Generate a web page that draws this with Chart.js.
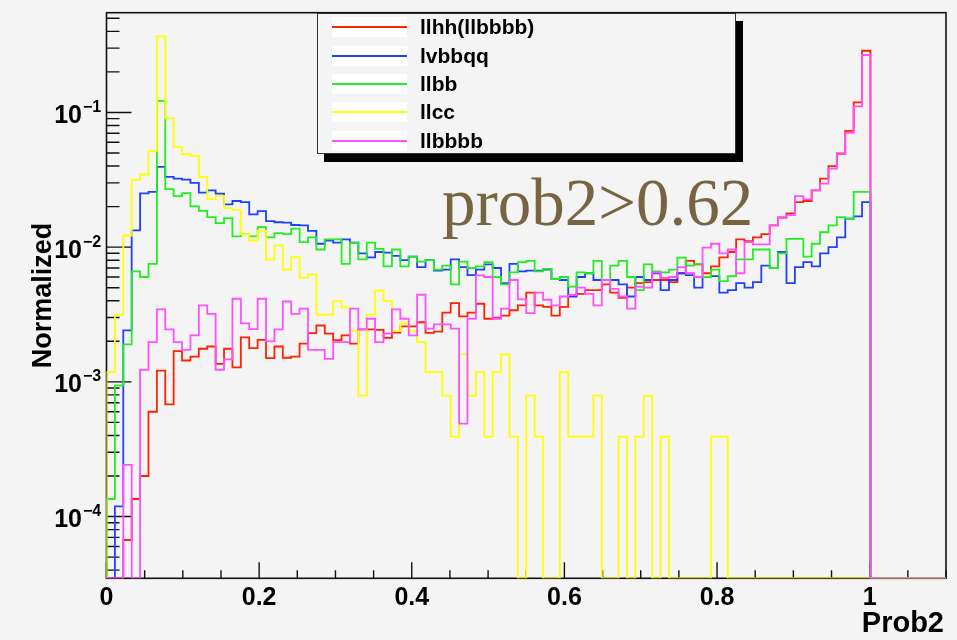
<!DOCTYPE html>
<html>
<head>
<meta charset="utf-8">
<script src="https://cdn.jsdelivr.net/npm/chart.js@4.4.0/dist/chart.umd.min.js"></script>
<style>
html,body{margin:0;padding:0;background:#f4f4f4;}
#wrap{position:relative;width:957px;height:640px;overflow:hidden;}
canvas{display:block;}
#legend{position:absolute;left:317px;top:13px;width:419px;height:141px;box-sizing:border-box;border:1px solid #333;background:#f4f4f4;box-shadow:7px 8px 0 0 #000;}
#legend .row{position:absolute;left:0;right:0;height:20px;}
#legend .sw{position:absolute;left:14px;top:0;width:75px;height:20px;background:#fff;}
#legend .sw i{position:absolute;left:0;right:0;top:9px;height:2px;}
#legend .tx{position:absolute;left:102px;top:-2px;line-height:20px;font:bold 21px "Liberation Sans",Arial,sans-serif;color:#000;white-space:nowrap;}
</style>
</head>
<body>
<div id="wrap">
<canvas id="c" width="957" height="640"></canvas>
<div id="legend"></div>
</div>
<script>
// ---- histogram binning (100 bins on [0, 1.1]; bins beyond the listed values are empty) ----
const NBINS = 100;
const XMIN = 0, XMAX = 1.1;
const YMIN = 3.48e-5, YMAX = 0.55;

const SERIES_NAMES = ['llhh(llbbbb)', 'lvbbqq', 'llbb', 'llcc', 'llbbbb'];
const SERIES_COLORS = ['#ff2200', '#2040ff', '#22ee22', '#ffff00', '#ff50ff'];

const XTICKS = [0, 0.2, 0.4, 0.6, 0.8, 1.0];
const XTICK_LABELS = ['0', '0.2', '0.4', '0.6', '0.8', '1'];
const YTICKS = [1e-4, 1e-3, 1e-2, 1e-1];
const YTICK_BASE = '10';
const YTICK_EXPONENTS = ['\u22124', '\u22123', '\u22122', '\u22121'];

const X_TITLE = 'Prob2';
const Y_TITLE = 'Normalized';
const CUT_TEXT = 'prob2>0.62';

const llhh = [0,0,6.7e-5,1.35e-4,2.0e-4,6.0e-4,1.21e-3,6.8e-4,1.69e-3,1.44e-3,
 1.54e-3,1.76e-3,1.83e-3,1.36e-3,1.76e-3,1.28e-3,2.14e-3,1.78e-3,2.05e-3,1.50e-3,
 1.83e-3,1.51e-3,1.54e-3,1.92e-3,2.30e-3,2.62e-3,2.28e-3,2.04e-3,2.21e-3,1.92e-3,
 2.45e-3,2.45e-3,2.43e-3,2.12e-3,2.32e-3,2.58e-3,2.58e-3,2.77e-3,2.31e-3,2.36e-3,
 3.27e-3,3.84e-3,3.06e-3,3.27e-3,3.80e-3,2.94e-3,3.0e-3,3.1e-3,3.4e-3,3.7e-3,
 4.6e-3,3.7e-3,3.6e-3,3.1e-3,3.6e-3,4.4e-3,4.5e-3,4.8e-3,4.8e-3,5.3e-3,
 4.6e-3,4.2e-3,5.0e-3,5.4e-3,5.5e-3,5.7e-3,5.7e-3,5.5e-3,6.4e-3,7.9e-3,
 7.45e-3,6.4e-3,7.2e-3,8.4e-3,9.2e-3,1.14e-2,1.11e-2,1.18e-2,1.25e-2,1.45e-2,
 1.66e-2,1.78e-2,2.16e-2,2.2e-2,2.64e-2,3.23e-2,3.99e-2,4.96e-2,7.3e-2,0.1187,
 0.287];

const lvbbqq = [0,1.19e-4,2.41e-3,1.33e-2,2.51e-2,2.57e-2,3.94e-2,3.32e-2,3.23e-2,3.17e-2,
 3.0e-2,2.54e-2,2.64e-2,2.5e-2,2.08e-2,2.2e-2,2.16e-2,1.75e-2,1.85e-2,1.56e-2,
 1.53e-2,1.52e-2,1.46e-2,1.45e-2,1.32e-2,1.06e-2,1.12e-2,1.08e-2,1.14e-2,1.08e-2,
 9.0e-3,8.4e-3,9.2e-3,9.1e-3,8.6e-3,8.0e-3,8.5e-3,7.1e-3,8.0e-3,6.7e-3,
 6.8e-3,8.1e-3,7.1e-3,6.2e-3,6.8e-3,7.45e-3,7.0e-3,5.4e-3,7.5e-3,6.6e-3,
 6.7e-3,6.7e-3,6.8e-3,5.8e-3,5.7e-3,4.3e-3,6.0e-3,6.4e-3,5.7e-3,5.7e-3,
 5.7e-3,5.3e-3,4.3e-3,6.0e-3,5.7e-3,6.4e-3,4.8e-3,5.7e-3,6.4e-3,6.2e-3,
 5.0e-3,6.0e-3,6.1e-3,4.6e-3,4.8e-3,5.4e-3,5.0e-3,5.5e-3,7.3e-3,7.0e-3,
 9.2e-3,5.4e-3,7.1e-3,7.75e-3,7.2e-3,9.0e-3,1.0e-2,1.18e-2,1.63e-2,1.69e-2,
 2.16e-2];

const llbb = [1.35e-4,9.4e-4,1.9e-3,6.6e-3,6.0e-3,7.5e-3,0.122,2.7e-2,2.39e-2,2.52e-2,
 2.01e-2,1.86e-2,1.67e-2,1.51e-2,1.64e-2,1.2e-2,1.25e-2,1.2e-2,1.41e-2,1.18e-2,
 1.27e-2,1.25e-2,1.37e-2,1.09e-2,1.18e-2,9.6e-3,1.14e-2,1.14e-2,7.5e-3,1.08e-2,
 8.1e-3,1.08e-2,9.7e-3,7.2e-3,9.6e-3,7.2e-3,8.5e-3,7.8e-3,8.0e-3,6.8e-3,
 7.3e-3,5.3e-3,7.8e-3,7.0e-3,7.2e-3,7.75e-3,6.0e-3,5.3e-3,6.5e-3,7.75e-3,
 7.9e-3,6.6e-3,6.9e-3,5.8e-3,6.0e-3,5.1e-3,6.5e-3,6.4e-3,7.9e-3,5.7e-3,
 7.3e-3,7.9e-3,6.0e-3,4.8e-3,7.45e-3,6.6e-3,6.5e-3,6.8e-3,8.35e-3,7.3e-3,
 7.5e-3,6.0e-3,6.8e-3,5.6e-3,6.1e-3,8.1e-3,8.1e-3,9.6e-3,9.6e-3,7.0e-3,
 9.0e-3,1.15e-2,1.15e-2,8.5e-3,1.06e-2,1.29e-2,1.45e-2,1.67e-2,1.63e-2,2.57e-2,
 2.57e-2];

const llcc = [1.18e-3,3.16e-3,1.22e-2,3.17e-2,3.46e-2,5.18e-2,0.367,9.02e-2,5.55e-2,4.9e-2,
 4.76e-2,3.32e-2,2.27e-2,2.4e-2,1.95e-2,1.88e-2,1.25e-2,1.12e-2,1.32e-2,8.08e-3,
 1.03e-2,6.8e-3,8.44e-3,5.94e-3,6.28e-3,3.16e-3,3.16e-3,3.97e-3,3.55e-3,2.38e-3,
 7.9e-4,3.16e-3,4.77e-3,3.97e-3,2.38e-3,2.72e-3,2.38e-3,1.97e-3,1.18e-3,1.18e-3,
 7.9e-4,3.92e-4,1.6e-3,7.9e-4,1.18e-3,3.92e-4,1.18e-3,1.6e-3,3.92e-4,0,
 7.9e-4,3.92e-4,0,0,1.18e-3,3.92e-4,3.92e-4,3.92e-4,7.9e-4,0,
 0,3.92e-4,0,3.92e-4,7.9e-4,0,3.92e-4,0,0,0,
 0,0,3.92e-4,3.92e-4,0,0,0,0,0,0,
 0,0,0,0,0,0,0,0,0,0,
 0];

const llbbbb = [0,0,2.42e-4,0,1.23e-3,1.97e-3,3.45e-3,2.45e-3,1.97e-3,1.73e-3,
 2.21e-3,3.69e-3,3.2e-3,1.23e-3,1.47e-3,4.14e-3,2.72e-3,2.46e-3,4.14e-3,2.0e-3,
 2.45e-3,3.95e-3,3.2e-3,3.49e-3,1.73e-3,1.73e-3,1.48e-3,1.97e-3,1.97e-3,3.49e-3,
 2.45e-3,2.94e-3,1.97e-3,2.28e-3,3.45e-3,2.94e-3,2.21e-3,4.43e-3,2.48e-3,2.67e-3,
 2.67e-3,2.48e-3,4.9e-4,2.94e-3,6.17e-3,6.0e-3,2.94e-3,3.5e-3,5.7e-3,4.1e-3,
 3.24e-3,4.6e-3,4.07e-3,3.7e-3,4.3e-3,4.4e-3,5.0e-3,4.5e-3,3.7e-3,5.7e-3,
 4.9e-3,4.3e-3,3.5e-3,5.1e-3,5.0e-3,6.5e-3,5.9e-3,6.0e-3,7.1e-3,6.4e-3,
 6.0e-3,9.9e-3,1.06e-2,9.0e-3,9.6e-3,6.4e-3,1.09e-2,1.05e-2,1.05e-2,1.45e-2,
 1.66e-2,1.73e-2,2.39e-2,2.26e-2,2.64e-2,2.96e-2,3.83e-2,4.9e-2,7.05e-2,0.111,
 0.267];

const SERIES = [llhh, lvbbqq, llbb, llcc, llbbbb];
// ROOT draws them in this order, the last on top
const DRAW_ORDER = [4, 3, 2, 1, 0];

// build the step outline of a histogram: empty bins sit on the frame bottom
function histPoints(vals) {
  const w = (XMAX - XMIN) / NBINS;
  const pts = [{x: XMIN, y: YMIN}];
  for (let i = 0; i < NBINS; i++) {
    const v = i < vals.length ? vals[i] : 0;
    pts.push({x: XMIN + i * w, y: v > 0 ? v : YMIN});
  }
  pts.push({x: XMAX, y: YMIN});
  return pts;
}

const FONT = '"Liberation Sans", Arial, Helvetica, sans-serif';

const rootFrame = {
  id: 'rootFrame',
  beforeDraw(chart) {
    const {ctx, width, height} = chart;
    ctx.save();
    ctx.fillStyle = '#f4f4f4';
    ctx.fillRect(0, 0, width, height);
    ctx.restore();
  },
  beforeDatasetsDraw(chart) {
    const {ctx, chartArea: a, scales: {x, y}} = chart;
    ctx.save();
    ctx.strokeStyle = '#111';
    ctx.lineWidth = 1.6;
    ctx.strokeRect(a.left, a.top, a.right - a.left, a.bottom - a.top);
    ctx.lineWidth = 1.4;
    ctx.beginPath();
    for (let k = 0; k <= 22; k++) {
      const v = k * 0.05;
      const px = x.getPixelForValue(v);
      const len = (k % 4 === 0) ? 16 : 8;
      ctx.moveTo(px, a.bottom);
      ctx.lineTo(px, a.bottom - len);
    }
    for (let e = -5; e <= 0; e++) {
      for (let m = 1; m <= 9; m++) {
        const v = m * Math.pow(10, e);
        if (v < YMIN || v > YMAX) continue;
        const py = y.getPixelForValue(v);
        const len = m === 1 ? 25 : 13;
        ctx.moveTo(a.left, py);
        ctx.lineTo(a.left + len, py);
      }
    }
    ctx.stroke();
    // y tick labels: 10 with a raised exponent, placed by the log scale
    ctx.fillStyle = '#000';
    ctx.textBaseline = 'alphabetic';
    YTICKS.forEach((v, i) => {
      const py = y.getPixelForValue(v);
      ctx.font = 'bold 25px ' + FONT;
      ctx.textAlign = 'right';
      ctx.fillText(YTICK_BASE, a.left - 24.5, py + 10.5);
      ctx.font = 'bold 16px ' + FONT;
      ctx.textAlign = 'left';
      ctx.fillText(YTICK_EXPONENTS[i], a.left - 23.5, py - 0.5);
    });
    // axis titles
    ctx.font = 'bold 29px ' + FONT;
    ctx.textAlign = 'right';
    ctx.fillText(X_TITLE, a.right - 2, 632);
    ctx.save();
    ctx.translate(51, (a.top + a.bottom) / 2);
    ctx.rotate(-Math.PI / 2);
    ctx.textAlign = 'center';
    ctx.font = 'bold 27px ' + FONT;
    ctx.fillText(Y_TITLE, 0, 0);
    ctx.restore();
    ctx.restore();
  },
  afterDatasetsDraw(chart) {
    const {ctx} = chart;
    ctx.save();
    ctx.fillStyle = '#766540';
    ctx.font = '67px "Liberation Serif", "Times New Roman", serif';
    ctx.textAlign = 'left';
    ctx.textBaseline = 'alphabetic';
    ctx.fillText(CUT_TEXT, 442, 225);
    ctx.restore();
  }
};

const datasets = SERIES.map((vals, i) => ({
  label: SERIES_NAMES[i],
  data: histPoints(vals),
  borderColor: SERIES_COLORS[i],
  backgroundColor: SERIES_COLORS[i],
  borderWidth: 1.8,
  stepped: true,
  pointRadius: 0,
  fill: false,
  order: DRAW_ORDER[i]
}));

new Chart(document.getElementById('c'), {
  type: 'line',
  data: {datasets},
  plugins: [rootFrame],
  options: {
    animation: false,
    responsive: false,
    devicePixelRatio: 1,
    layout: {padding: {top: 12.7, right: 11, left: 0, bottom: 0}},
    plugins: {legend: {display: false}, tooltip: {enabled: false}},
    scales: {
      x: {
        type: 'linear', min: XMIN, max: XMAX,
        grid: {display: false, drawTicks: false},
        border: {display: false},
        afterBuildTicks: s => { s.ticks = XTICKS.map(v => ({value: v})); },
        afterFit: s => { s.height = 61.7; },
        ticks: {
          autoSkip: false, maxRotation: 0, padding: 5, color: '#000',
          font: {family: FONT, size: 25, weight: 'bold'},
          callback: (v, i) => XTICK_LABELS[i]
        }
      },
      y: {
        type: 'logarithmic', min: YMIN, max: YMAX,
        grid: {display: false, drawTicks: false},
        border: {display: false},
        afterBuildTicks: s => { s.ticks = YTICKS.map(v => ({value: v})); },
        afterFit: s => { s.width = 106.5; },
        ticks: {display: false}
      }
    }
  }
});

// legend box (ROOT TLegend look)
const leg = document.getElementById('legend');
SERIES_NAMES.forEach((name, i) => {
  const row = document.createElement('div');
  row.className = 'row';
  row.style.top = (3.3 + i * 28.35) + 'px';
  const sw = document.createElement('span');
  sw.className = 'sw';
  const ln = document.createElement('i');
  ln.style.background = SERIES_COLORS[i];
  sw.appendChild(ln);
  const tx = document.createElement('span');
  tx.className = 'tx';
  tx.textContent = name;
  row.appendChild(sw);
  row.appendChild(tx);
  leg.appendChild(row);
});
</script>
</body>
</html>
